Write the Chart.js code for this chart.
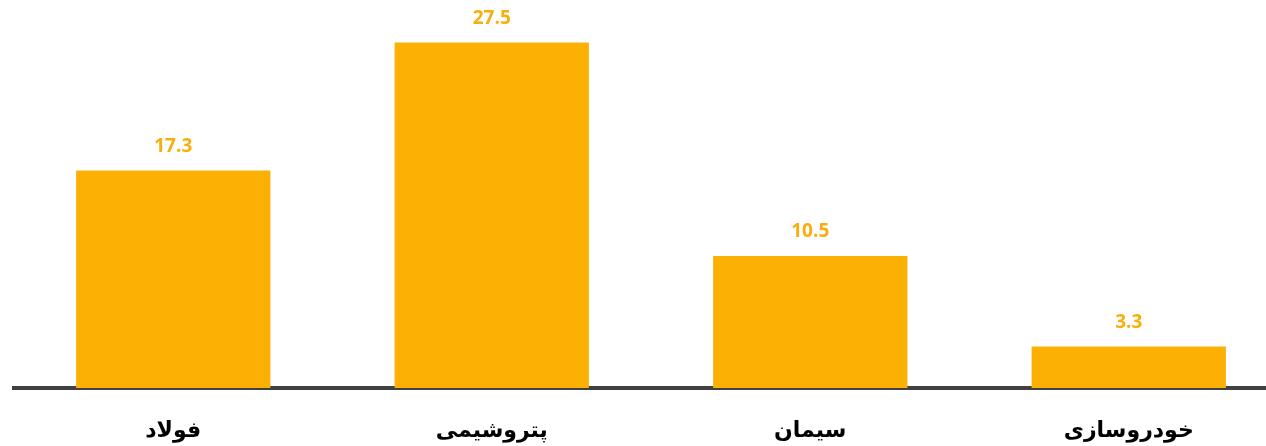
<!DOCTYPE html>
<html>
<head>
<meta charset="utf-8">
<script src="https://cdn.jsdelivr.net/npm/chart.js@4.4.0/dist/chart.umd.min.js"></script>
<style>
  html, body { margin: 0; padding: 0; background: #fff; overflow: hidden; }
  #wrap { width: 1290px; height: 446px; }
</style>
</head>
<body>
<div id="wrap"><canvas id="c"></canvas></div>
<script>
const categories = ['فولاد', 'پتروشیمی', 'سیمان', 'خودروسازی'];
const values = [17.3, 27.5, 10.5, 3.3];

const barColor = '#FDB004';

// value labels above each bar
const valueLabels = {
    id: 'valueLabels',
    afterDatasetsDraw(chart) {
        const ctx = chart.ctx;
        const meta = chart.getDatasetMeta(0);
        ctx.save();
        ctx.font = 'bold 19px "Open Sans"';
        ctx.fillStyle = '#F8AE0C';
        ctx.textAlign = 'center';
        ctx.textBaseline = 'middle';
        meta.data.forEach((bar, i) => {
            ctx.fillText(values[i].toFixed(1), bar.x, bar.y - 24);
        });
        ctx.restore();
    }
};

new Chart(document.getElementById('c'), {
    type: 'bar',
    data: {
        labels: categories,
        datasets: [{ data: values, backgroundColor: barColor, borderWidth: 0, barPercentage: 0.61, categoryPercentage: 1 }]
    },
    options: {
        responsive: true, maintainAspectRatio: false, animation: false,
        layout: { padding: { left: 14, right: 2, top: 11, bottom: 0 } },
        plugins: { legend: { display: false }, tooltip: { enabled: false } },
        scales: {
            x: {
                afterFit(scale) { scale.height = 58; },
                grid: { display: false, drawTicks: false },
                border: { display: true, color: '#404040', width: 4 },
                ticks: { color: '#000', padding: 30, font: { family: '"DejaVu Sans"', weight: 'bold', size: 22 } }
            },
            y: {
                display: false, min: 0, max: 30
            }
        }
    },
    plugins: [valueLabels]
});
</script>
</body>
</html>
